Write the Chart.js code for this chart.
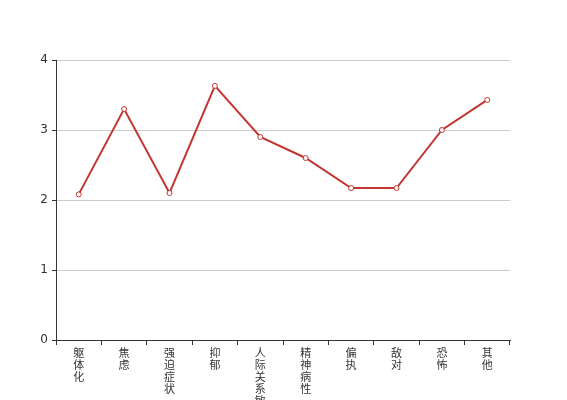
<!DOCTYPE html>
<html lang="zh">
<head>
  <meta charset="UTF-8">
  <title>因子得分</title>
  <script src="https://cdn.jsdelivr.net/npm/chart.js"></script>
  <style>
    html, body { margin: 0; padding: 0; background: #fff; overflow: hidden; }
    .chart-container { position: relative; width: 567px; height: 400px; }
  </style>
</head>
<body>
  <div class="chart-container">
    <canvas id="factorChart"></canvas>
  </div>

  <script>
    const categories = ['躯体化', '焦虑', '强迫症状', '抑郁', '人际关系敏感', '精神病性', '偏执', '敌对', '恐怖', '其他'];
    const scores = [2.08, 3.30, 2.10, 3.63, 2.90, 2.60, 2.17, 2.17, 3.00, 3.43];
    const yTicks = [0, 1, 2, 3, 4];

    const fontFamily = '"DejaVu Sans", "Noto Sans CJK SC", sans-serif';

    // vertical labels: one character per line
    const verticalLabels = categories.map(name => name.split(''));

    const ctx = document.getElementById('factorChart').getContext('2d');
    new Chart(ctx, {
      type: 'line',
      data: {
        labels: verticalLabels,
        datasets: [{
          data: scores,
          borderColor: '#c23531',
          borderWidth: 2,
          backgroundColor: '#ffffff',
          pointBackgroundColor: '#ffffff',
          pointBorderColor: '#c23531',
          pointBorderWidth: 1,
          pointRadius: 2.5,
          tension: 0,
          fill: false
        }]
      },
      options: {
        responsive: true,
        maintainAspectRatio: false,
        animation: false,
        layout: {
          padding: { top: 60, right: 57, left: 0, bottom: 0 }
        },
        plugins: {
          legend: { display: false },
          tooltip: { enabled: false }
        },
        scales: {
          x: {
            offset: true,
            grid: {
              offset: true,
              drawOnChartArea: false,
              drawTicks: true,
              tickLength: 5,
              tickColor: '#333'
            },
            border: { color: '#333', width: 1 },
            ticks: {
              autoSkip: false,
              maxRotation: 0,
              minRotation: 0,
              padding: 3,
              color: '#333',
              font: { family: fontFamily, size: 11, lineHeight: '12px' }
            },
            afterFit: scale => { scale.height = 60; }
          },
          y: {
            min: yTicks[0],
            max: yTicks[yTicks.length - 1],
            afterBuildTicks: scale => {
              scale.ticks = yTicks.map(v => ({ value: v }));
            },
            grid: {
              color: '#ccc',
              tickColor: '#333',
              tickLength: 4
            },
            border: { color: '#333', width: 1 },
            ticks: {
              padding: 4,
              color: '#333',
              font: { family: fontFamily, size: 12 }
            },
            afterFit: scale => { scale.width = 56; }
          }
        }
      }
    });
  </script>
</body>
</html>
